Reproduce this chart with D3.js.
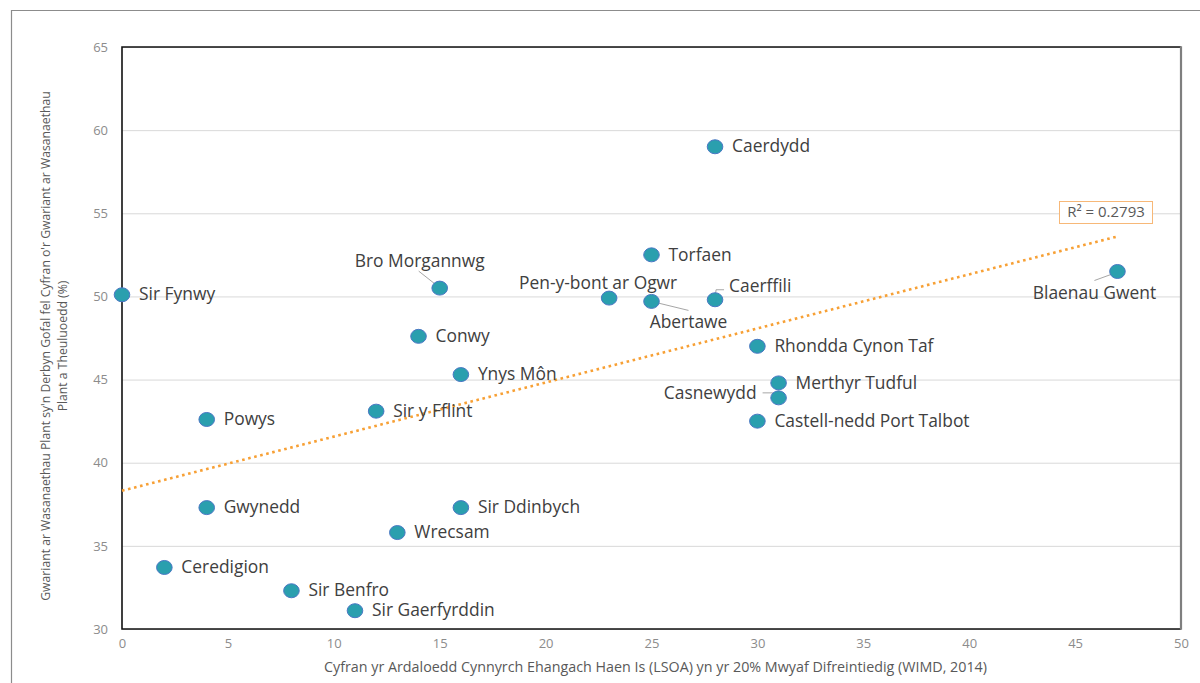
<!DOCTYPE html>
<html>
<head>
<meta charset="utf-8">
<script src="https://cdn.jsdelivr.net/npm/d3@7"></script>
<style>
  html, body { margin: 0; padding: 0; background: #fff; }
  svg { display: block; }
</style>
</head>
<body>
<svg id="chart" width="1200" height="683"></svg>
<script>
// Local authorities
const authorities = [
  "Caerdydd", "Torfaen", "Blaenau Gwent", "Sir Fynwy", "Bro Morgannwg",
  "Pen-y-bont ar Ogwr", "Abertawe", "Caerffili", "Conwy", "Rhondda Cynon Taf",
  "Ynys Môn", "Merthyr Tudful", "Casnewydd", "Sir y Fflint", "Powys",
  "Castell-nedd Port Talbot", "Gwynedd", "Sir Ddinbych", "Wrecsam",
  "Ceredigion", "Sir Benfro", "Sir Gaerfyrddin"
];
// % of LSOAs in the 20% most deprived (WIMD 2014)
const deprivedShare = [
  28, 25, 47, 0, 15,
  23, 25, 28, 14, 30,
  16, 31, 31, 12, 4,
  30, 4, 16, 13,
  2, 8, 11
];
// Looked-after children spend as % of children & families services spend
const lacSpendShare = [
  59.0, 52.5, 51.5, 50.1, 50.5,
  49.9, 49.7, 49.8, 47.6, 47.0,
  45.3, 44.8, 43.9, 43.1, 42.6,
  42.5, 37.3, 37.3, 35.8,
  33.7, 32.3, 31.1
];
const xTicks = [0, 5, 10, 15, 20, 25, 30, 35, 40, 45, 50];
const yTicks = [30, 35, 40, 45, 50, 55, 60, 65];
const rSquaredText = "R² = 0.2793";

const xTitle = "Cyfran yr Ardaloedd Cynnyrch Ehangach Haen Is (LSOA) yn yr 20% Mwyaf Difreintiedig (WIMD, 2014)";
const yTitleLines = [
  "Gwariant ar Wasanaethau Plant sy'n Derbyn Gofal fel Cyfran o'r Gwariant ar Wasanaethau",
  "Plant a Theuluoedd (%)"
];

// Label placement relative to each marker (pixels); default is to the right
const labelPlacement = {
  "Bro Morgannwg":      { anchor: "middle", dx: -20, dy: -26, leader: [[-21, -17], [-2, -2]] },
  "Pen-y-bont ar Ogwr": { anchor: "middle", dx: -11, dy: -14 },
  "Abertawe":           { anchor: "middle", dx: 37,  dy: 22,  leader: [[0, 0], [37, 9]] },
  "Caerffili":          { anchor: "start",  dx: 14,  dy: -12, leader: [[0, 0], [1, -10], [9, -10]] },
  "Casnewydd":          { anchor: "end",    dx: -22, dy: -4,  leader: [[-16, -5], [-6, -5], [0, 0]] },
  "Blaenau Gwent":      { anchor: "middle", dx: -23, dy: 23,  leader: [[-23, 9], [-1, 1]] }
};

const svg = d3.select("#chart");
const plot = { left: 122, right: 1181, top: 47, bottom: 629 };

const x = d3.scaleLinear().domain([0, 50]).range([plot.left, plot.right]);
const y = d3.scaleLinear().domain([30, 65]).range([plot.bottom, plot.top]);

const font = "'Open Sans', Lato, sans-serif";

// Outer chart frame
svg.append("path")
  .attr("d", `M11.5,${683 + 5} V10.5 H${1200 + 5}`)
  .attr("fill", "none").attr("stroke", "#8c8c8c").attr("stroke-width", 1.2);

// Horizontal gridlines
svg.append("g")
  .attr("transform", `translate(${plot.left},0)`)
  .call(d3.axisLeft(y).tickValues(yTicks).tickSize(-(plot.right - plot.left)).tickFormat(""))
  .call(g => g.select(".domain").remove())
  .call(g => g.selectAll(".tick line").attr("stroke", "#d9d9d9").attr("stroke-width", 1));

// Plot border
svg.append("path")
  .attr("d", `M${plot.right},${plot.top} H${plot.left} V${plot.bottom} H${plot.right}`)
  .attr("fill", "none").attr("stroke", "#111").attr("stroke-width", 1.6);
svg.append("line")
  .attr("x1", plot.right).attr("x2", plot.right)
  .attr("y1", plot.top - 0.8).attr("y2", plot.bottom + 0.8)
  .attr("stroke", "#7f7f7f").attr("stroke-width", 2.2);

// Axis tick labels
const xAxis = svg.append("g")
  .attr("transform", `translate(0,${plot.bottom})`)
  .call(d3.axisBottom(x).tickValues(xTicks).tickSize(0).tickPadding(10).tickFormat(d3.format("d")));
xAxis.select(".domain").remove();
xAxis.selectAll("text").attr("fill", "#8c8c8c").style("font-family", font).style("font-size", "13px");

const yAxis = svg.append("g")
  .attr("transform", `translate(${plot.left},0)`)
  .call(d3.axisLeft(y).tickValues(yTicks).tickSize(0).tickPadding(14).tickFormat(d3.format("d")));
yAxis.select(".domain").remove();
yAxis.selectAll("text").attr("fill", "#8c8c8c").style("font-family", font).style("font-size", "13px");

// Axis titles
svg.append("text")
  .attr("x", (plot.left + plot.right) / 2 + 4).attr("y", 668)
  .attr("text-anchor", "middle").attr("dominant-baseline", "middle")
  .attr("fill", "#595959").style("font-family", font).style("font-size", "14.3px")
  .text(xTitle);

const yTitle = svg.append("text")
  .attr("transform", "translate(47,346) rotate(-90)")
  .attr("text-anchor", "middle")
  .attr("fill", "#595959").style("font-family", font).style("font-size", "12.2px");
yTitleLines.forEach((line, i) => {
  yTitle.append("tspan").attr("x", 0).attr("y", i * 17).attr("dominant-baseline", "middle").text(line);
});

// Least-squares trendline over the observed x range
const mx = d3.mean(deprivedShare), my = d3.mean(lacSpendShare);
const sxy = d3.sum(deprivedShare, (v, i) => (v - mx) * (lacSpendShare[i] - my));
const sxx = d3.sum(deprivedShare, v => (v - mx) * (v - mx));
const slope = sxy / sxx, intercept = my - slope * mx;
const [xMin, xMax] = d3.extent(deprivedShare);

svg.append("line")
  .attr("x1", x(xMin)).attr("y1", y(intercept + slope * xMin))
  .attr("x2", x(xMax)).attr("y2", y(intercept + slope * xMax))
  .attr("stroke", "#f7a035").attr("stroke-width", 2.6)
  .attr("stroke-dasharray", "2.6,3.6");

// R² label
const rBox = svg.append("g").attr("transform", "translate(1059.5,201.5)");
rBox.append("rect").attr("width", 93).attr("height", 22)
  .attr("fill", "#fff").attr("stroke", "#f7b878").attr("stroke-width", 1);
rBox.append("text").attr("x", 46.5).attr("y", 11.5)
  .attr("text-anchor", "middle").attr("dominant-baseline", "middle")
  .attr("fill", "#595959").style("font-family", font).style("font-size", "15px")
  .text(rSquaredText);

const points = authorities.map((name, i) => ({ name, xv: deprivedShare[i], yv: lacSpendShare[i] }));

// Leader lines
svg.append("g").selectAll("polyline")
  .data(points.filter(p => labelPlacement[p.name] && labelPlacement[p.name].leader))
  .join("polyline")
  .attr("points", p => labelPlacement[p.name].leader.map(([dx, dy]) => `${x(p.xv) + dx},${y(p.yv) + dy}`).join(" "))
  .attr("fill", "none").attr("stroke", "#a6a6a6").attr("stroke-width", 1);

// Markers
svg.append("g").selectAll("ellipse")
  .data(points)
  .join("ellipse")
  .attr("cx", p => x(p.xv)).attr("cy", p => y(p.yv))
  .attr("rx", 7.8).attr("ry", 7)
  .attr("fill", "#2a9fae").attr("stroke", "#4a77c4").attr("stroke-width", 1);

// Data labels
svg.append("g").selectAll("text")
  .data(points)
  .join("text")
  .each(function (p) {
    const pl = labelPlacement[p.name] || { anchor: "start", dx: 17, dy: 1 };
    d3.select(this)
      .attr("x", x(p.xv) + pl.dx).attr("y", y(p.yv) + pl.dy)
      .attr("text-anchor", pl.anchor);
  })
  .attr("dominant-baseline", "middle")
  .attr("fill", "#404040").style("font-family", font).style("font-size", "17.4px")
  .text(p => p.name);
</script>
</body>
</html>
